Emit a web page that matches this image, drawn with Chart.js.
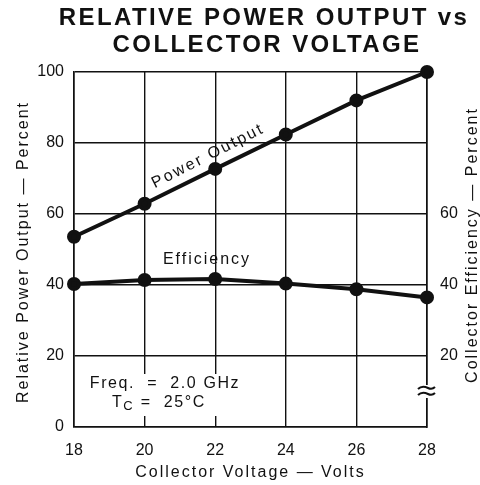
<!DOCTYPE html>
<html><head><meta charset="utf-8">
<script src="https://cdn.jsdelivr.net/npm/chart.js@4/dist/chart.umd.min.js"></script>
<style>html,body{margin:0;padding:0;background:#fff}#wrap{width:480px;height:485px}</style>
</head><body><div id="wrap"><canvas id="c" width="480" height="485"></canvas></div>
<script>
const voltage = [18, 20, 22, 24, 26, 28];
const powerOutput = [53.6, 62.9, 72.7, 82.4, 92.0, 100];
const efficiency = [40.3, 41.4, 41.7, 40.4, 38.8, 36.5];
const xTicks = [18, 20, 22, 24, 26, 28];
const leftTicks = [0, 20, 40, 60, 80, 100];
const rightTicks = [20, 40, 60];
const titleLines = ['RELATIVE POWER OUTPUT vs', 'COLLECTOR VOLTAGE'];
const xTitle = 'Collector Voltage \u2014 Volts';
const yTitle = 'Relative Power Output \u2014 Percent';
const y1Title = 'Collector Efficiency \u2014 Percent';

const FONT = '"Liberation Sans", Arial, Helvetica, sans-serif';
const INK = '#111';

function txt(ctx, s, x, y, font, align, spacing) {
  ctx.font = font; ctx.textAlign = align || 'center'; ctx.textBaseline = 'middle';
  ctx.letterSpacing = (spacing || 0) + 'px';
  ctx.fillText(s, x, y);
}

const deco = {
  id: 'deco',
  beforeDatasetsDraw(chart) {
    const ctx = chart.ctx;
    ctx.save();
    ctx.fillStyle = '#fff';
    // clear grid behind the condition note
    ctx.fillRect(88, 374, 156, 42);
    // break in right axis
    ctx.fillRect(chart.chartArea.right - 6, 385, 12, 13);
    ctx.restore();
  },
  afterDraw(chart) {
    const ctx = chart.ctx;
    const a = chart.chartArea;
    ctx.save();
    ctx.fillStyle = INK;
    // title
    txt(ctx, titleLines[0], 264, 18, 'bold 24px ' + FONT, 'center', 2.4);
    txt(ctx, titleLines[1], 267, 45, 'bold 24px ' + FONT, 'center', 2.4);
    // axis titles
    txt(ctx, xTitle, (a.left + a.right) / 2, 473, '16px ' + FONT, 'center', 2);
    ctx.save(); ctx.translate(24, 252); ctx.rotate(-Math.PI / 2);
    txt(ctx, yTitle, 0, 0, '16px ' + FONT, 'center', 2); ctx.restore();
    ctx.save(); ctx.translate(473, 245); ctx.rotate(-Math.PI / 2);
    txt(ctx, y1Title, 0, 0, '16px ' + FONT, 'center', 2); ctx.restore();
    // series labels
    ctx.save(); ctx.translate(208, 156); ctx.rotate(-27 * Math.PI / 180);
    txt(ctx, 'Power Output', 0, 0, '16px ' + FONT, 'center', 2.2); ctx.restore();
    txt(ctx, 'Efficiency', 207, 260, '16px ' + FONT, 'center', 2);
    // note
    txt(ctx, 'Freq.  =  2.0 GHz', 165, 384, '16px ' + FONT, 'center', 1.6);
    let x = 112; const yb = 403;
    txt(ctx, 'T', x, yb, '16px ' + FONT, 'left', 1.6);
    x += ctx.measureText('T').width;
    txt(ctx, 'C', x, yb + 3, '13px ' + FONT, 'left', 1);
    x += ctx.measureText('C').width + 1;
    txt(ctx, ' =  25\u00b0C', x, yb, '16px ' + FONT, 'left', 1.6);
    // axis break symbol (two tildes)
    ctx.strokeStyle = INK; ctx.lineWidth = 2;
    [388, 394].forEach(y0 => {
      ctx.beginPath();
      ctx.moveTo(a.right - 9, y0 + 1);
      ctx.bezierCurveTo(a.right - 5, y0 - 3, a.right - 1, y0 - 1, a.right + 1, y0);
      ctx.bezierCurveTo(a.right + 3, y0 + 1, a.right + 6, y0 + 1, a.right + 8, y0 - 1);
      ctx.stroke();
    });
    ctx.restore();
  }
};

const gridCommon = { color: INK, lineWidth: 1.4, drawTicks: false };

new Chart(document.getElementById('c'), {
  type: 'line',
  data: {
    labels: voltage,
    datasets: [
      { label: 'Power Output', data: voltage.map((v, i) => ({ x: v, y: powerOutput[i] })), yAxisID: 'y',
        borderColor: INK, backgroundColor: INK, borderWidth: 4, pointRadius: 5, pointBackgroundColor: INK, tension: 0, clip: false },
      { label: 'Efficiency', data: voltage.map((v, i) => ({ x: v, y: efficiency[i] })), yAxisID: 'y1',
        borderColor: INK, backgroundColor: INK, borderWidth: 4, pointRadius: 5, pointBackgroundColor: INK, tension: 0, clip: false }
    ]
  },
  options: {
    responsive: false, animation: false, devicePixelRatio: 1,
    layout: { padding: { top: 72, left: 0, right: 0, bottom: 0 } },
    plugins: { legend: { display: false }, title: { display: false }, tooltip: { enabled: false } },
    scales: {
      x: {
        type: 'linear', min: 18, max: 28,
        afterBuildTicks: s => { s.ticks = xTicks.map(v => ({ value: v })); },
        afterFit: s => { s.height = 58; },
        grid: gridCommon, border: { color: INK, width: 1.6 },
        ticks: { color: INK, font: { family: FONT, size: 16 }, padding: 14 }
      },
      y: {
        position: 'left', min: 0, max: 100,
        afterBuildTicks: s => { s.ticks = leftTicks.map(v => ({ value: v })); },
        afterFit: s => { s.width = 74; },
        grid: gridCommon, border: { color: INK, width: 1.6 },
        ticks: { color: INK, font: { family: FONT, size: 16 }, padding: 10 }
      },
      y1: {
        position: 'right', min: 0, max: 100,
        afterBuildTicks: s => { s.ticks = rightTicks.map(v => ({ value: v })); },
        afterFit: s => { s.width = 53; },
        grid: { display: false, drawTicks: false }, border: { color: INK, width: 1.6 },
        ticks: { color: INK, font: { family: FONT, size: 16 }, padding: 13 }
      }
    }
  },
  plugins: [deco]
});
</script></body></html>
